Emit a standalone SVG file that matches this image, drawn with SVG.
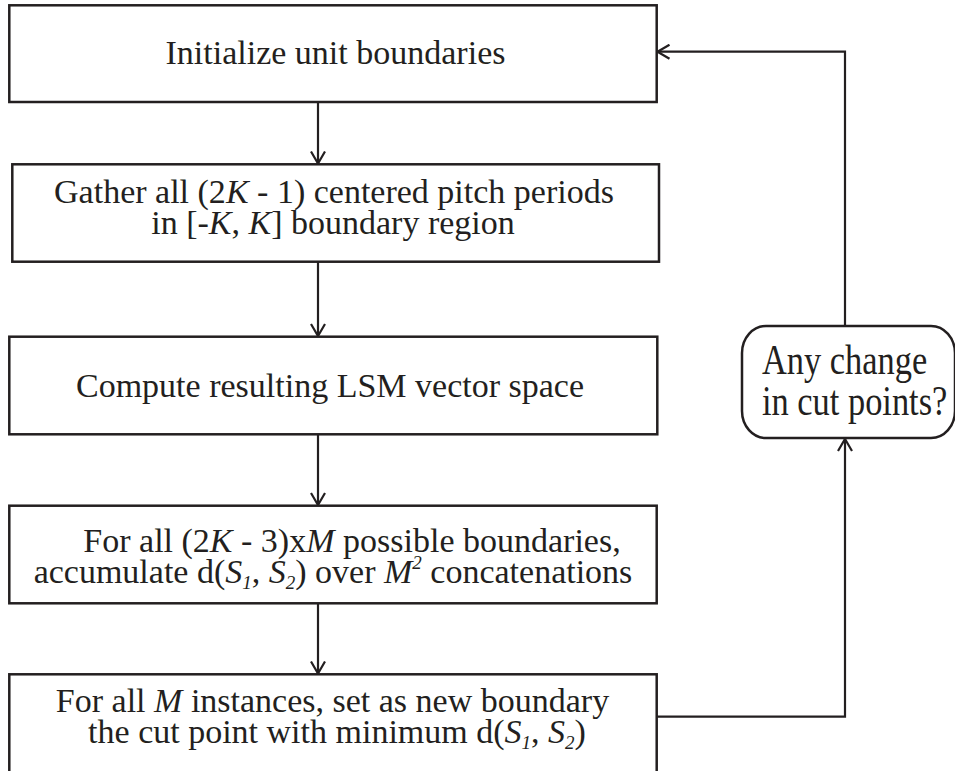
<svg xmlns="http://www.w3.org/2000/svg" width="955" height="771" viewBox="0 0 955 771">
<defs>
<style>
.box{fill:#fff;stroke:#231f20;stroke-width:2.5}
.ln{fill:none;stroke:#231f20;stroke-width:2.2}
.t{font-size:34px;fill:#231f20;text-anchor:middle}
.td{font-size:43px;fill:#231f20}
.i{font-style:italic}
.s{font-size:19px;font-style:italic}
</style>
<marker id="arr" viewBox="0 0 14 16" refX="13.5" refY="8" markerWidth="14" markerHeight="16" markerUnits="userSpaceOnUse" orient="auto">
<path d="M1,1 L13,8 L1,15" fill="none" stroke="#231f20" stroke-width="2.2"/>
</marker>
</defs>
<rect width="955" height="771" fill="#fff"/>
<g id="connectors">
<line class="ln" x1="318" y1="102" x2="318" y2="164" marker-end="url(#arr)"/>
<line class="ln" x1="318" y1="262" x2="318" y2="336.5" marker-end="url(#arr)"/>
<line class="ln" x1="318" y1="434.5" x2="318" y2="505.5" marker-end="url(#arr)"/>
<line class="ln" x1="318" y1="603.5" x2="318" y2="674" marker-end="url(#arr)"/>
<polyline class="ln" points="657,716.7 845,716.7 845,438.5" marker-end="url(#arr)"/>
<polyline class="ln" points="845,326 845,51.7 657,51.7" marker-end="url(#arr)"/>
</g>
<g font-family="Liberation Serif, serif">
<g id="n1">
<rect class="box" x="9.3" y="5.3" width="647.4" height="96.7"/>
<text class="t" x="335.5" y="64.3">Initialize unit boundaries</text>
</g>
<g id="n2">
<rect class="box" x="12.3" y="164.3" width="646.7" height="97.4"/>
<text class="t" x="334" y="202.6">Gather all (2<tspan class="i">K</tspan> - 1) centered pitch periods</text>
<text class="t" x="333" y="234.3">in [-<tspan class="i">K</tspan>, <tspan class="i">K</tspan>] boundary region</text>
</g>
<g id="n3">
<rect class="box" x="9.3" y="336.7" width="648" height="97.6"/>
<text class="t" x="330" y="396.7">Compute resulting LSM vector space</text>
</g>
<g id="n4">
<rect class="box" x="9.3" y="505.7" width="647.4" height="97.6"/>
<text class="t" x="352" y="551.7">For all (2<tspan class="i">K</tspan> - 3)x<tspan class="i">M</tspan> possible boundaries,</text>
<text class="t" x="333" y="583.3">accumulate d(<tspan class="i">S</tspan><tspan class="s" dy="6">1</tspan><tspan dy="-6">, </tspan><tspan class="i">S</tspan><tspan class="s" dy="6">2</tspan><tspan dy="-6">) over </tspan><tspan class="i">M</tspan><tspan class="s" dy="-14" font-style="normal">2</tspan><tspan dy="14"> concatenations</tspan></text>
</g>
<g id="n5">
<rect class="box" x="9.3" y="674.3" width="647.4" height="110"/>
<text class="t" x="332.5" y="711.7">For all <tspan class="i">M</tspan> instances, set as new boundary</text>
<text class="t" x="337" y="743.3">the cut point with minimum d(<tspan class="i">S</tspan><tspan class="s" dy="6">1</tspan><tspan dy="-6">, </tspan><tspan class="i">S</tspan><tspan class="s" dy="6">2</tspan><tspan dy="-6">)</tspan></text>
</g>
<g id="n6">
<rect class="box" x="742" y="326" width="213" height="112" rx="24" ry="27"/>
<text class="td" transform="translate(762,374) scale(0.8,1)">Any change</text>
<text class="td" transform="translate(762,415) scale(0.8,1)">in cut points?</text>
</g>
</g>
</svg>
